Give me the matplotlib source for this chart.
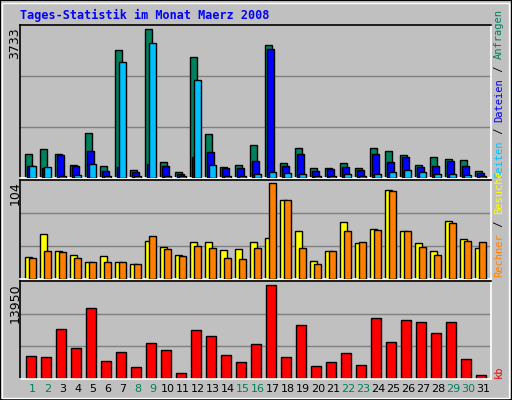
import matplotlib
matplotlib.use("Agg")
import matplotlib.pyplot as plt
from matplotlib.patches import Rectangle

days = list(range(1, 32))
weekend = [1, 2, 8, 9, 15, 16, 22, 23, 29, 30]
hits = [591, 718, 591, 338, 1123, 312, 3226, 211, 3733, 414, 160, 3049, 1098, 287, 338, 819,
        3353, 388, 743, 262, 262, 388, 262, 743, 667, 566, 338, 540, 490, 464, 186]
files = [312, 253, 566, 312, 667, 186, 287, 160, 363, 312, 110, 540, 642, 262, 262, 439,
         3252, 312, 591, 186, 236, 287, 211, 591, 414, 540, 287, 312, 439, 312, 135]
pages = [312, 287, 59, 84, 363, 59, 2922, 59, 3404, 59, 59, 2466, 338, 59, 59, 110,
         160, 135, 110, 59, 59, 110, 59, 110, 160, 211, 160, 110, 110, 84, 59]
visits = [24, 49, 30, 26, 18, 25, 18, 16, 41, 35, 26, 40, 40, 31, 32, 40,
          44, 85, 52, 20, 30, 62, 39, 54, 96, 52, 39, 30, 63, 43, 34]
sites = [23, 30, 29, 23, 18, 18, 18, 16, 47, 32, 25, 36, 34, 23, 22, 34,
         104, 85, 34, 16, 30, 52, 40, 53, 95, 52, 35, 26, 61, 41, 40]
kbytes = [3411, 3258, 7382, 4633, 10437, 2647, 4022, 1731, 5397, 4328, 815, 7230, 6313, 3564,
          2495, 5244, 13950, 3258, 7993, 1884, 2495, 3869, 2036, 9062, 5549, 8757, 8451, 6771,
          8451, 2953, 662]

W, H = 512, 400
fig = plt.figure(figsize=(W/100, H/100), dpi=100)
fig.patch.set_facecolor('#C0C0C0')
fig.add_artist(Rectangle((0, 0), 1, 1, transform=fig.transFigure, fill=False, ec='black', lw=1.5))
fig.add_artist(Rectangle((2/W, 2/H), 1-5/W, 1-5/H, transform=fig.transFigure, fill=False, ec='white', lw=1))

MONO = 'DejaVu Sans Mono'
px = 15.0
x0 = 1 - 5.3/px
x1 = 1 + (491-25.3)/px
wbar = 7/px

def mkax(top, bottom):
    ax = fig.add_axes([20/W, 1-bottom/H, 471/W, (bottom-top)/H])
    ax.set_facecolor('#C0C0C0')
    ax.set_xlim(x0, x1)
    ax.set_xticks([]); ax.set_yticks([])
    for s in ['top', 'left']:
        ax.spines[s].set_color('black')
    for s in ['bottom', 'right']:
        ax.spines[s].set_color('white')
    for s in ax.spines.values():
        s.set_linewidth(1.2)
    return ax

def grid(ax, top):
    for f in (1/3, 2/3):
        ax.axhline(top*f, color='#808080', lw=1, zorder=0)

ax1 = mkax(25, 178)
t1 = max(hits)*1.03
ax1.set_ylim(0, t1); grid(ax1, t1)
ax1.bar(days, hits, width=wbar, align='edge', color='#00805C', ec='black', lw=1, zorder=2)
ax1.bar([d + 2/px for d in days], files, width=wbar, align='edge', color='#0000FF', ec='black', lw=1, zorder=3)
ax1.bar([d + 4/px for d in days], pages, width=wbar, align='edge', color='#00C0FF', ec='black', lw=1, zorder=4)

ax2 = mkax(180, 279)
t2 = max(sites)*1.03
ax2.set_ylim(0, t2); grid(ax2, t2)
ax2.bar(days, visits, width=wbar, align='edge', color='#FFFF00', ec='black', lw=1, zorder=2)
ax2.bar([d + 4/px for d in days], sites, width=wbar, align='edge', color='#FF8000', ec='black', lw=1, zorder=3)

ax3 = mkax(281, 379)
t3 = max(kbytes)*1.04
ax3.set_ylim(0, t3); grid(ax3, t3)
ax3.bar([d + 1/px for d in days], kbytes, width=10/px, align='edge', color='#FF0000', ec='black', lw=1, zorder=2)

for d in days:
    ax3.text(d + 0.5, -0.05, str(d), transform=ax3.get_xaxis_transform(), ha='center', va='top',
             fontsize=8, family='DejaVu Sans', color='#00805C' if d in weekend else 'black')

def maxlab(ypx, txt):
    fig.text(15/W, 1-ypx/H, txt, rotation=90, ha='center', va='top', fontsize=9, family='DejaVu Sans')
maxlab(27, '3733'); maxlab(181, '104'); maxlab(283, '13950')

fig.text(20/W, 1-15/H, 'Tages-Statistik im Monat Maerz 2008', fontsize=8.5, family=MONO,
         weight='bold', color='#0000FF', va='center')

fig.canvas.draw()
renderer = fig.canvas.get_renderer()

def stack(ystart, parts):
    y = ystart
    for txt, col in parts:
        t = fig.text(499/W, 1-y/H, txt, rotation=90, ha='center', va='bottom', fontsize=7.5,
                     family=MONO, color=col)
        bb = t.get_window_extent(renderer)
        y -= bb.height
stack(178, [('Seiten', '#00C0FF'), (' / ', 'black'), ('Dateien', '#0000FF'), (' / ', 'black'), ('Anfragen', '#00805C')])
stack(277, [('Rechner', '#FF8000'), (' / ', 'black'), ('Besuche', '#FFFF00')])
stack(378, [('kb', '#FF0000')])

fig.savefig('out.png', dpi=100, facecolor=fig.get_facecolor())
